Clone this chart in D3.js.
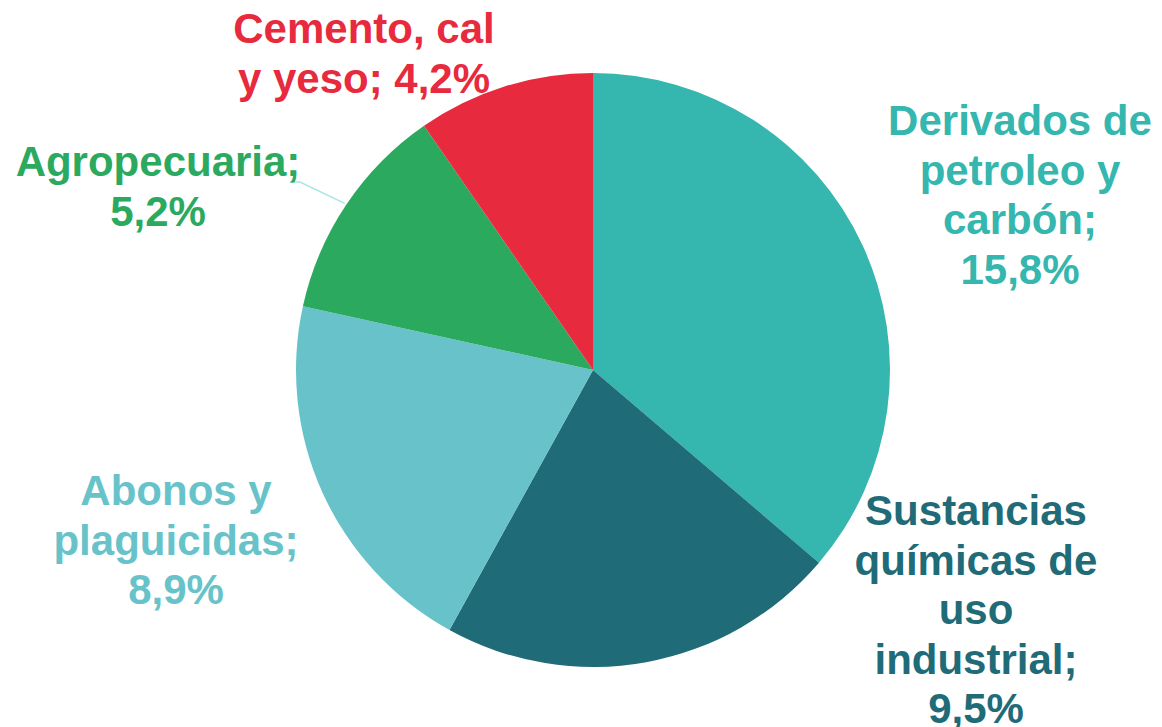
<!DOCTYPE html>
<html>
<head>
<meta charset="utf-8">
<script src="https://cdn.jsdelivr.net/npm/d3@7"></script>
<style>
  body { margin: 0; background: #fff; }
  text { font-family: "Liberation Sans", Arial, sans-serif; font-weight: bold; }
</style>
</head>
<body>
<div id="chart"></div>
<script>
// data
var categories = ["Derivados de petroleo y carbón", "Sustancias químicas de uso industrial",
                  "Abonos y plaguicidas", "Agropecuaria", "Cemento, cal y yeso"];
var values = [15.8, 9.5, 8.9, 5.2, 4.2];
var valueLabels = ["15,8%", "9,5%", "8,9%", "5,2%", "4,2%"];
var colors = ["#35b6ae", "#1f6b78", "#67c3c9", "#2ba95f", "#e72a3d"];

// label layout (lines, centre x, first baseline)
var labelLines = [
  ["Derivados de", "petroleo y", "carbón;", "15,8%"],
  ["Sustancias", "químicas de", "uso", "industrial;", "9,5%"],
  ["Abonos y", "plaguicidas;", "8,9%"],
  ["Agropecuaria;", "5,2%"],
  ["Cemento, cal", "y yeso; 4,2%"]
];
var labelPos = [[1020, 135], [976, 525], [176, 505], [158, 176], [364, 43]];

var width = 1162,
    height = 727,
    cx = 593,
    cy = 370,
    radius = 297;

var svg = d3.select("#chart")
  .append("svg")
    .attr("width", width)
    .attr("height", height);

var g = svg.append("g")
    .attr("transform", "translate(" + cx + "," + cy + ")");

var pie = d3.pie()
  .sort(null)
  .value(function(d) { return d; });
var data_ready = pie(values);

var arc = d3.arc()
  .innerRadius(0)
  .outerRadius(radius);

// leader line for the small green slice (drawn under the slices)
var agro = data_ready[3];
var mid = (agro.startAngle + agro.endAngle) / 2;
var edge = [Math.sin(mid) * (radius + 2), -Math.cos(mid) * (radius + 2)];
svg.append("polyline")
  .attr("points", [[290, 182], [300, 182], [cx + edge[0], cy + edge[1]]].join(" "))
  .attr("fill", "none")
  .attr("stroke", "#a8e6e3")
  .attr("stroke-width", 1.5);

svg.node().appendChild(g.node());

g.selectAll("path")
  .data(data_ready)
  .enter()
  .append("path")
    .attr("d", arc)
    .attr("fill", function(d, i) { return colors[i]; });

// labels
labelLines.forEach(function(lines, i) {
  var t = svg.append("text")
    .attr("text-anchor", "middle")
    .attr("fill", colors[i])
    .style("font-size", "42px");
  lines.forEach(function(line, j) {
    t.append("tspan")
      .attr("x", labelPos[i][0])
      .attr("y", labelPos[i][1] + j * 49.5)
      .text(line);
  });
});
</script>
</body>
</html>
